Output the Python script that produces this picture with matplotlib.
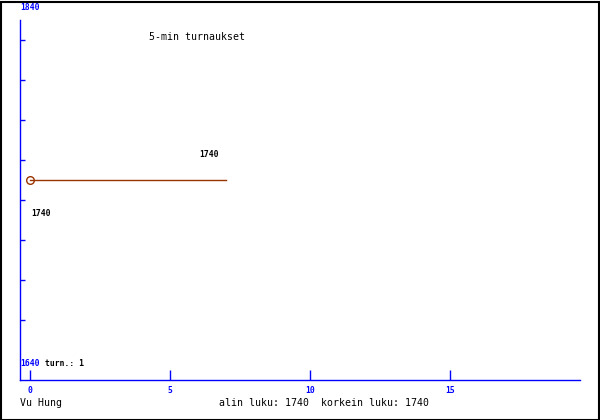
import matplotlib
matplotlib.use("Agg")
import matplotlib.pyplot as plt
from matplotlib.patches import Rectangle

# ---- data ----
games = [0, 7]
ratings = [1740, 1740]
x_ticks = [0, 5, 10, 15]
x_tick_labels = ["0", "5", "10", "15"]
y_ticks = [1670, 1690, 1710, 1730, 1750, 1770, 1790, 1810]
y_top_label = "1840"
y_bottom_label = "1640"
title = "5-min turnaukset"
player = "Vu Hung"
summary = "alin luku: 1740  korkein luku: 1740"
games_text = "turn.: 1"
point_label = "1740"

W, H = 600, 420
fig = plt.figure(figsize=(6, 4.2), dpi=100)
fig.patch.set_facecolor("white")

# axes area in pixels: x 20..580, y 20..380
ax = fig.add_axes([20 / W, (H - 380) / H, 560 / W, 360 / H])
ax.set_xlim(-10 / 28, 550 / 28)
ax.set_ylim(1640, 1820)

blue = "#0000ff"
line_col = "#993300"
mono = "DejaVu Sans Mono"
small = 5.8

for s in ["top", "right"]:
    ax.spines[s].set_visible(False)
for s in ["left", "bottom"]:
    ax.spines[s].set_color(blue)
    ax.spines[s].set_linewidth(1.0)

ax.set_xticks(x_ticks)
ax.set_xticklabels(x_tick_labels, fontfamily=mono, fontsize=small,
                   fontweight="bold", color=blue)
ax.tick_params(axis="x", direction="in", length=7.2, width=1.0, color=blue, pad=4.3)
ax.set_yticks(y_ticks)
ax.set_yticklabels([])
ax.tick_params(axis="y", direction="in", length=3.6, width=1.0, color=blue)

ax.plot(games, ratings, color=line_col, lw=1.0, marker="o", markevery=[0],
        markersize=5.5, markerfacecolor="none", markeredgecolor=line_col,
        markeredgewidth=1.0, clip_on=False)

def ptext(x, y, s, **kw):
    fig.text(x / W, 1 - y / H, s, **kw)

ptext(20, 8, y_top_label, fontfamily=mono, fontsize=small, fontweight="bold",
      color=blue, va="center", ha="left")
ptext(20, 364, y_bottom_label, fontfamily=mono, fontsize=small, fontweight="bold",
      color=blue, va="center", ha="left")
ptext(45, 364, games_text, fontfamily=mono, fontsize=small, fontweight="bold",
      color="black", va="center", ha="left")
ptext(149, 37, title, fontfamily=mono, fontsize=7.1, color="black",
      va="center", ha="left")
ptext(199, 154.5, point_label, fontfamily=mono, fontsize=small, fontweight="bold",
      color="black", va="center", ha="left")
ptext(31, 213.5, point_label, fontfamily=mono, fontsize=small, fontweight="bold",
      color="black", va="center", ha="left")
ptext(20, 402.5, player, fontfamily=mono, fontsize=7.1, color="black",
      va="center", ha="left")
ptext(219, 402.5, summary, fontfamily=mono, fontsize=7.1, color="black",
      va="center", ha="left")

# figure border
fig.patches.append(Rectangle((0.5 / W, 0.5 / H), 598 / W, 418 / H,
                             transform=fig.transFigure, fill=False,
                             edgecolor="black", linewidth=1.5))

fig.savefig("out.png", dpi=100)
